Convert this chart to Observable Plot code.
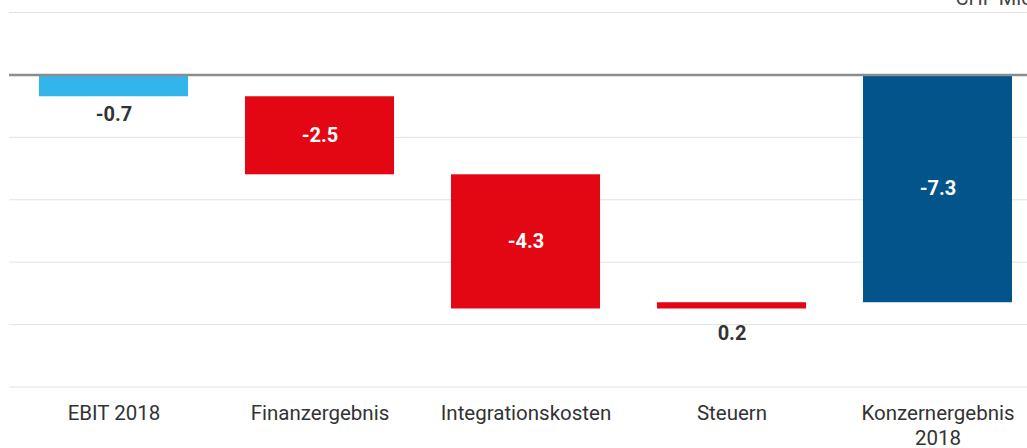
<!DOCTYPE html>
<html>
<head>
<meta charset="utf-8">
<script src="https://cdn.jsdelivr.net/npm/d3@7"></script>
<script src="https://cdn.jsdelivr.net/npm/@observablehq/plot@0.6"></script>
<style>
  html, body { margin: 0; padding: 0; background: #fff; overflow: hidden; }
  #chart svg { overflow: visible; }
</style>
</head>
<body>
<div id="chart"></div>
<script>
const categories = ["EBIT 2018", "Finanzergebnis", "Integrationskosten", "Steuern", "Konzernergebnis 2018"];
const values = [-0.7, -2.5, -4.3, 0.2, -7.3];
const kinds = ["total", "delta", "delta", "delta", "total"];
const colors = ["#31B5EB", "#E30613", "#E30613", "#E30613", "#03548A"];
const yTicks = [2, 0, -2, -4, -6, -8, -10];
const unitLabel = "CHF Mio.";

let running = 0;
const rows = categories.map((c, i) => {
  let y1, y2;
  if (kinds[i] === "total") { y1 = 0; y2 = values[i]; running = values[i]; }
  else { y1 = running; y2 = running + values[i]; running = y2; }
  const lo = Math.min(y1, y2), hi = Math.max(y1, y2);
  return { cat: c, value: values[i], kind: kinds[i], y1, y2, lo, hi, color: colors[i],
           inside: Math.abs(values[i]) >= 1, label: values[i].toFixed(1) };
});

const font = "Roboto, 'Liberation Sans', Arial, sans-serif";

const chart = Plot.plot({
  width: 1027,
  height: 448,
  marginLeft: 9,
  marginRight: 0,
  marginTop: 12,
  marginBottom: 61.5,
  style: { fontFamily: font, background: "#fff", overflow: "visible" },
  x: { domain: categories, range: [9.5, 1040.5], paddingInner: 0.277, paddingOuter: 0.1385, label: null },
  y: { domain: [-10, 2], axis: null },
  marks: [
    Plot.ruleY(yTicks.filter(t => t !== 0), { stroke: "#e2e2e2", strokeWidth: 1 }),
    Plot.barY(rows, { x: "cat", y1: "y1", y2: "y2", fill: "color" }),
    Plot.ruleY([0], { stroke: "#8c8c8c", strokeWidth: 2.5 }),
    Plot.text(rows.filter(d => d.inside), {
      x: "cat", y: d => (d.lo + d.hi) / 2, text: "label",
      fill: "#fff", fontSize: 20, fontWeight: "bold"
    }),
    Plot.text(rows.filter(d => !d.inside && d.kind === "total"), {
      x: "cat", y: "lo", text: "label", lineAnchor: "top",
      dy: 10, fill: "#333", fontSize: 20, fontWeight: "bold"
    }),
    Plot.text(rows.filter(d => !d.inside && d.kind === "delta"), {
      x: "cat", y: "lo", text: "label", lineAnchor: "top",
      dy: 17, fill: "#333", fontSize: 20, fontWeight: "bold"
    }),
    Plot.axisX({
      tickSize: 0, tickPadding: 16, fontSize: 20.5, fill: "#333", lineHeight: 1.2,
      tickFormat: d => d.length > 15 ? d.replace(" ", "\n") : d
    }),
    Plot.text([unitLabel], {
      frameAnchor: "top-left", dx: 946, dy: -8, lineAnchor: "bottom",
      textAnchor: "start", fill: "#444", fontSize: 20
    })
  ]
});
document.getElementById("chart").appendChild(chart);
</script>
</body>
</html>
